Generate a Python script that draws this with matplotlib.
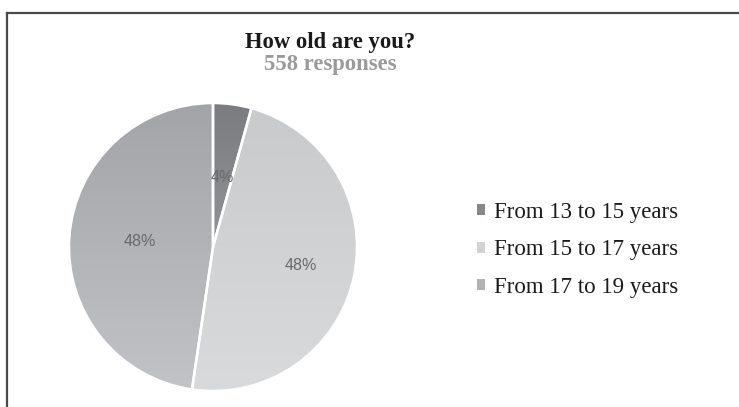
import numpy as np
import matplotlib
matplotlib.use("Agg")
import matplotlib.pyplot as plt
from matplotlib.colors import LinearSegmentedColormap
from matplotlib.lines import Line2D

# ---- data ----
title = "How old are you?"
subtitle = "558 responses"
categories = ["From 13 to 15 years", "From 15 to 17 years", "From 17 to 19 years"]
counts = [24, 268, 266]
pct_labels = ["4%", "48%", "48%"]

# ---- style ----
top_colors = ["#7b7c7f", "#c9cacc", "#a3a4a7"]
bottom_colors = ["#a9aaad", "#d9dadc", "#c2c3c6"]
flat_colors = ["#86878a", "#d1d2d4", "#b1b2b5"]
label_radius = [0.49, 0.62, 0.51]

W, H = 739, 407
fig = plt.figure(figsize=(W / 100, H / 100), dpi=100)
fig.patch.set_facecolor("white")

# border lines (top and left)
fig.add_artist(Line2D([7 / W, 1.0], [1 - 13 / H, 1 - 13 / H], color="#4a4a4a", lw=1.6,
                      transform=fig.transFigure))
fig.add_artist(Line2D([7 / W, 7 / W], [1 - 13 / H, 0.0], color="#4a4a4a", lw=1.6,
                      transform=fig.transFigure))

cx, cy, r = 213, 247, 144
ax = fig.add_axes([(cx - r) / W, (H - cy - r) / H, 2 * r / W, 2 * r / H])
wedges, _ = ax.pie(counts, startangle=90, counterclock=False, colors=flat_colors,
                   radius=1, wedgeprops=dict(edgecolor="none"))
ax.set_xlim(-1, 1)
ax.set_ylim(-1, 1)
ax.axis("off")

# vertical gradients clipped to each wedge
grad = np.linspace(0, 1, 256).reshape(-1, 1)
for w, tc, bc in zip(wedges, top_colors, bottom_colors):
    cmap = LinearSegmentedColormap.from_list("g", [tc, bc])
    im = ax.imshow(grad, extent=[-1, 1, -1, 1], origin="upper", cmap=cmap,
                   aspect="auto", zorder=1)
    im.set_clip_path(w)

# white separators on top
edges, _ = ax.pie(counts, startangle=90, counterclock=False, radius=1,
                  wedgeprops=dict(facecolor="none", edgecolor="white", linewidth=1.8))
for e in edges:
    e.set_zorder(2)
ax.set_xlim(-1, 1)
ax.set_ylim(-1, 1)

# percentage labels
for w, lab, rr in zip(wedges, pct_labels, label_radius):
    ang = np.deg2rad((w.theta1 + w.theta2) / 2)
    ax.text(rr * np.cos(ang), rr * np.sin(ang), lab, ha="center", va="center",
            fontsize=11.5, color="#69696b", family="Liberation Sans", zorder=3)

# titles
fig.text(330 / W, 1 - 48 / H, title, ha="center", va="baseline", fontsize=16.3,
         fontweight="bold", family="Liberation Serif", color="#1a1a1a")
fig.text(330 / W, 1 - 70 / H, subtitle, ha="center", va="baseline", fontsize=16.3,
         fontweight="bold", family="Liberation Serif", color="#9a9a9a")

# legend
leg = fig.legend(wedges, categories, loc="upper left",
                 bbox_to_anchor=(477 / W, 1 - 202 / H), frameon=False,
                 prop=dict(family="Liberation Serif", size=16.5),
                 handlelength=0.36, handleheight=0.36, handletextpad=0.4,
                 labelspacing=0.72, borderpad=0, borderaxespad=0)
for t in leg.get_texts():
    t.set_color("#1a1a1a")

fig.savefig("out.png", dpi=100)
